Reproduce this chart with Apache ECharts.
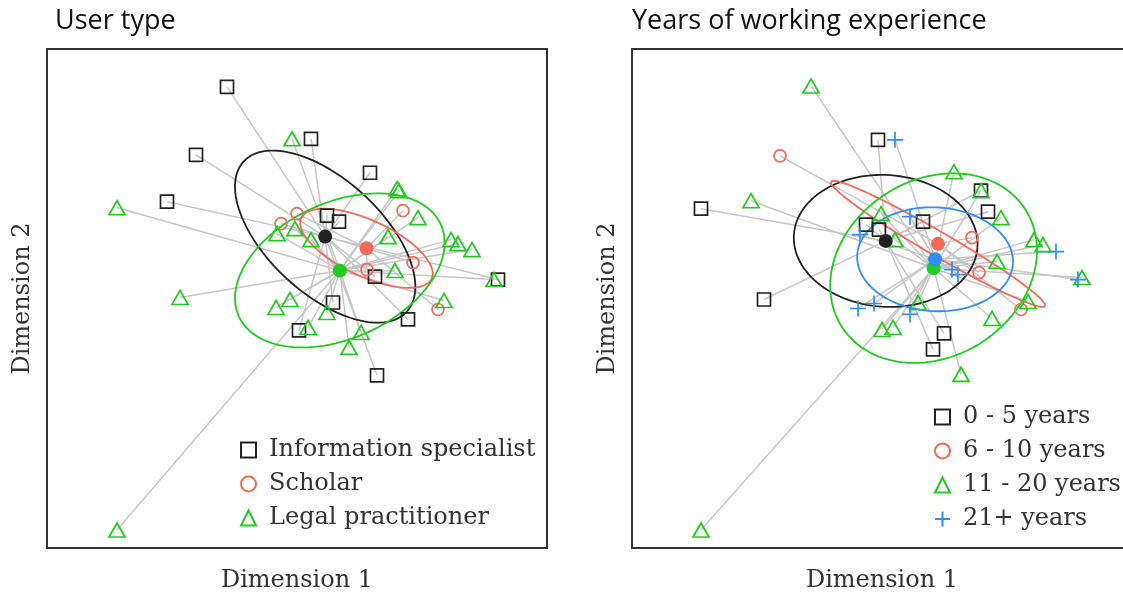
<!DOCTYPE html>
<html>
<head>
<meta charset="utf-8">
<title>User type / Years of working experience</title>
<script src="https://cdn.jsdelivr.net/npm/echarts@6/dist/echarts.min.js"></script>
<style>
  html, body { margin: 0; padding: 0; background: #fff; }
  #chart { width: 1123px; height: 595px; }
</style>
</head>
<body>
<div id="chart"></div>
<script>
// positions on the two MDS dimensions (same respondents in both panels)
const infoSpecialist = [[-0.70, 2.12], [-1.01, 1.44], [-1.30, 0.97], [0.14, 1.60], [0.73, 1.26], [0.30, 0.83], [0.42, 0.77],
  [0.78, 0.22], [2.01, 0.19], [0.36, -0.04], [1.11, -0.21], [0.02, -0.32], [0.80, -0.77]];
const scholar = [[-0.16, 0.75], [0.00, 0.85], [1.06, 0.88], [1.16, 0.36], [0.70, 0.29], [1.41, -0.11]];
const legalPractitioner = [[-1.80, 0.91], [-0.05, 1.60], [1.00, 1.10], [1.02, 1.08], [1.21, 0.81], [-0.20, 0.65], [-0.02, 0.70],
  [0.14, 0.59], [0.91, 0.62], [1.54, 0.59], [1.61, 0.55], [1.75, 0.49], [0.98, 0.28], [1.97, 0.19], [-1.17, 0.01],
  [-0.07, -0.01], [-0.21, -0.09], [1.47, -0.02], [0.30, -0.14], [0.11, -0.29], [0.64, -0.34], [0.52, -0.49], [-1.80, -2.32]];

const years0to5 = [[-0.04, 1.59], [-1.81, 0.90], [-0.16, 0.74], [-0.03, 0.69], [0.41, 0.77], [0.99, 1.08], [1.06, 0.87],
  [-1.18, -0.01], [0.62, -0.35], [0.51, -0.51]];
const years6to10 = [[-1.02, 1.43], [0.90, 0.61], [0.97, 0.26], [1.39, -0.11]];
const years11to20 = [[-0.71, 2.13], [-1.31, 0.98], [-0.01, 0.85], [0.72, 1.27], [0.99, 1.08], [1.19, 0.81], [0.13, 0.59],
  [1.52, 0.59], [1.61, 0.54], [1.15, 0.37], [2.00, 0.21], [1.46, -0.03], [1.10, -0.20], [0.36, -0.04], [0.00, -0.31],
  [0.11, -0.29], [0.79, -0.76], [-1.81, -2.32]];
const years21plus = [[0.13, 1.59], [0.28, 0.82], [-0.22, 0.64], [0.70, 0.29], [0.76, 0.24], [1.74, 0.47], [1.96, 0.19],
  [-0.24, -0.10], [-0.08, -0.05], [0.28, -0.16]];

const userTypeNames = ["Information specialist", "Scholar", "Legal practitioner"];
const experienceNames = ["0 - 5 years", "6 - 10 years", "11 - 20 years", "21+ years"];

// ellipse semi-axes (a, b) and angle of a in degrees
const userTypeEllipses = [[1.11, 0.57, -42.8], [0.72, 0.28, -25], [1.11, 0.68, 24.6]];
const experienceEllipses = [[0.92, 0.66, -4], [1.24, 0.12, -30.2], [1.09, 0.885, 32.8], [0.78, 0.52, -3]];

const BLACK = "#222222", RED = "#f36b58", GREEN = "#1fcb1f", BLUE = "#2f8ef5";
const PLUS = "path://M0,8H16M8,0V16";

function mean(pts) {
  let sx = 0, sy = 0;
  pts.forEach(p => { sx += p[0]; sy += p[1]; });
  return [sx / pts.length, sy / pts.length];
}

function ellipse(c, e) {
  const out = [];
  const th = e[2] * Math.PI / 180;
  for (let i = 0; i <= 120; i++) {
    const t = i / 120 * Math.PI * 2;
    const u = e[0] * Math.cos(t), v = e[1] * Math.sin(t);
    out.push([c[0] + u * Math.cos(th) - v * Math.sin(th), c[1] + u * Math.sin(th) + v * Math.cos(th)]);
  }
  return out;
}

function panelSeries(idx, names, groups, ellipses, colors, symbols, sizes) {
  const spiders = [], rings = [], marks = [], centers = [];
  groups.forEach((pts, g) => {
    const c = mean(pts);
    spiders.push({
      type: "lines", coordinateSystem: "cartesian2d", xAxisIndex: idx, yAxisIndex: idx,
      silent: true, z: 1,
      lineStyle: { color: "#c6c6c6", width: 1.5, opacity: 1 },
      data: pts.map(p => ({ coords: [p, c] }))
    });
    rings.push({
      type: "line", name: names[g] + " ellipse", xAxisIndex: idx, yAxisIndex: idx,
      showSymbol: false, silent: true, z: 2,
      lineStyle: { color: colors[g], width: 1.8 },
      data: ellipse(c, ellipses[g])
    });
    marks.push({
      type: "scatter", name: names[g], xAxisIndex: idx, yAxisIndex: idx, z: 3,
      symbol: symbols[g], symbolSize: sizes[g],
      itemStyle: { color: "rgba(0,0,0,0)", borderColor: colors[g], borderWidth: 1.7, opacity: 1 },
      data: pts
    });
    centers.push({
      type: "scatter", name: names[g] + " centroid", xAxisIndex: idx, yAxisIndex: idx, z: 4,
      symbol: "circle", symbolSize: 14, silent: true,
      itemStyle: { color: colors[g], opacity: 1 },
      data: [c]
    });
  });
  return spiders.concat(rings, marks, centers);
}

const serif = "DejaVu Serif";
const axisCommon = {
  type: "value", min: -2.5, max: 2.5,
  axisLine: { show: false }, axisTick: { show: false }, axisLabel: { show: false }, splitLine: { show: false },
  nameLocation: "middle",
  nameTextStyle: { fontFamily: serif, fontSize: 24, color: "#333" }
};

const chart = echarts.init(document.getElementById("chart"), null, { renderer: "canvas" });

const legendCommon = {
  orient: "vertical", itemWidth: 15, itemHeight: 15, itemGap: 8, selectedMode: false,
  textStyle: { fontFamily: serif, fontSize: 24, lineHeight: 26, color: "#333", padding: [0, 0, 0, 8] }
};

const gridCommon = { width: 500, height: 499, show: true, borderColor: "#333", borderWidth: 2, backgroundColor: "#fff", outerBoundsMode: "none" };
const titleStyle = { fontFamily: "Open Sans", fontSize: 27, fontWeight: "normal", color: "#111" };

chart.setOption({
  animation: false,
  backgroundColor: "#fff",
  title: [
    { text: "User type", left: 50, top: 3, textStyle: titleStyle },
    { text: "Years of working experience", left: 627, top: 3, textStyle: titleStyle }
  ],
  grid: [
    Object.assign({ left: 47, top: 49 }, gridCommon),
    Object.assign({ left: 632, top: 49 }, gridCommon)
  ],
  xAxis: [
    Object.assign({}, axisCommon, { gridIndex: 0, name: "Dimension 1", nameGap: 21 }),
    Object.assign({}, axisCommon, { gridIndex: 1, name: "Dimension 1", nameGap: 21 })
  ],
  yAxis: [
    Object.assign({}, axisCommon, { gridIndex: 0, name: "Dimension 2", nameGap: 12 }),
    Object.assign({}, axisCommon, { gridIndex: 1, name: "Dimension 2", nameGap: 12 })
  ],
  legend: [
    Object.assign({}, legendCommon, { data: userTypeNames, left: 235, top: 432 }),
    Object.assign({}, legendCommon, { data: experienceNames, left: 929, top: 399 })
  ],
  series: panelSeries(0, userTypeNames, [infoSpecialist, scholar, legalPractitioner], userTypeEllipses,
      [BLACK, RED, GREEN], ["rect", "circle", "triangle"], [13, 12, [16, 14]])
    .concat(panelSeries(1, experienceNames, [years0to5, years6to10, years11to20, years21plus], experienceEllipses,
      [BLACK, RED, GREEN, BLUE], ["rect", "circle", "triangle", PLUS], [13, 12, [16, 14], 16]))
});

window.addEventListener("resize", () => chart.resize());
</script>
</body>
</html>
